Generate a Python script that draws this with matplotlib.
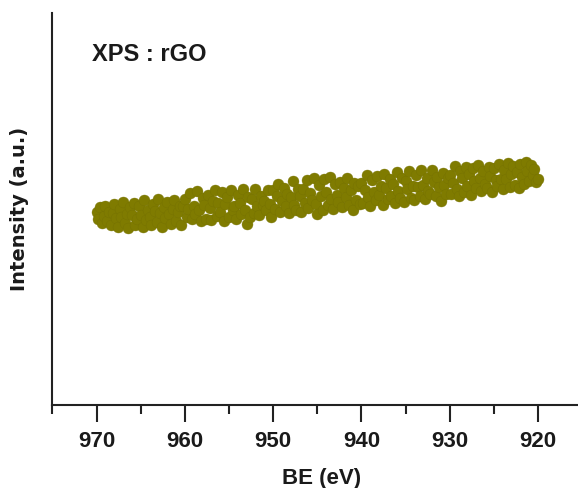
import numpy as np
import matplotlib
matplotlib.use("Agg")
import matplotlib.pyplot as plt
from matplotlib.ticker import MultipleLocator

# binding energy scan (eV), high to low, fixed step
be_start = 970.0
be_end = 920.0

# background intensity (a.u.), one value per 0.2 eV step from 970 down to 920
intensity = [
    # 970 - 960.2
    49.1, 47.3, 50.4, 46.3, 48.2, 50.8, 46.9, 49.3, 45.8, 49.0,
    51.3, 47.6, 45.3, 49.9, 48.0, 51.8, 46.4, 48.8, 45.0, 50.4,
    48.4, 51.6, 46.0, 47.3, 50.6, 48.5, 45.4, 52.3, 47.1, 49.6,
    48.0, 45.8, 51.3, 49.5, 46.6, 52.6, 49.0, 45.3, 50.5, 47.6,
    51.7, 48.6, 46.2, 49.9, 52.3, 46.9, 49.2, 50.8, 45.8, 50.6,
    # 960 - 950.2
    52.5, 47.8, 50.0, 54.1, 47.3, 50.8, 48.6, 54.5, 49.6, 46.9,
    52.8, 51.0, 47.5, 53.6, 50.1, 47.1, 51.9, 54.9, 48.2, 51.6,
    49.3, 54.3, 46.9, 51.2, 52.9, 48.0, 54.8, 49.7, 50.6, 47.4,
    53.5, 51.6, 48.6, 55.0, 49.8, 46.2, 53.1, 47.9, 52.4, 49.0,
    55.1, 50.8, 48.3, 53.2, 51.1, 51.9, 49.6, 54.9, 51.3, 47.9,
    # 950 - 940.2
    54.8, 50.0, 53.2, 56.4, 49.2, 52.1, 55.4, 50.7, 53.8, 48.9,
    52.9, 57.0, 51.1, 49.6, 55.0, 53.4, 49.3, 55.1, 51.6, 57.4,
    50.3, 54.0, 52.2, 58.0, 51.3, 48.8, 56.0, 53.4, 49.8, 57.6,
    54.3, 50.9, 58.2, 52.6, 49.9, 56.3, 53.5, 51.8, 56.9, 50.4,
    55.3, 52.9, 57.8, 51.0, 54.8, 49.6, 56.6, 52.3, 55.9, 51.2,
    # 940 - 930.2
    56.7, 51.6, 54.9, 58.6, 52.9, 50.8, 57.3, 54.4, 52.2, 58.4,
    53.5, 55.8, 51.1, 59.0, 55.3, 52.6, 57.6, 53.3, 56.4, 51.6,
    59.3, 54.6, 52.7, 58.0, 51.8, 57.1, 55.1, 59.6, 52.8, 55.9,
    52.3, 58.6, 55.6, 53.4, 59.9, 56.2, 52.4, 57.8, 54.5, 53.9,
    60.0, 56.9, 53.2, 58.2, 55.7, 51.9, 59.2, 56.1, 53.8, 58.0,
    # 930 - 920.2
    58.7, 53.9, 56.6, 61.0, 55.0, 53.4, 59.6, 57.8, 54.4, 60.6,
    55.8, 58.9, 53.6, 60.3, 57.0, 55.2, 61.2, 57.9, 54.6, 59.7,
    56.3, 55.4, 60.8, 58.5, 54.4, 60.4, 57.3, 55.9, 61.4, 57.7,
    55.0, 59.9, 57.6, 61.8, 55.7, 58.9, 60.9, 56.2, 59.4, 55.3,
    61.5, 58.1, 56.4, 62.0, 59.7, 57.1, 61.1, 58.6, 60.2, 56.8,
    # 920
    57.6,
]

x_ticks = [970, 960, 950, 940, 930, 920]
sample_label = "XPS : rGO"

be = np.linspace(be_start, be_end, len(intensity))

fig = plt.figure(figsize=(5.78, 4.88), dpi=100)
ax = fig.add_axes([0.0908, 0.1707, 0.930, 0.8027])

ax.scatter(be, intensity, s=62, marker="o", facecolor="#7f7b00",
           edgecolor="#767200", linewidths=0.3, zorder=3)

ax.set_xlim(975, 914.1)
ax.set_ylim(0, 100)

# only left and bottom axis lines
for side in ("top", "right"):
    ax.spines[side].set_visible(False)
for side in ("left", "bottom"):
    ax.spines[side].set_linewidth(1.5)
    ax.spines[side].set_color("#222222")

ax.set_xticks(x_ticks)
ax.xaxis.set_minor_locator(MultipleLocator(5))
ax.set_yticks([])
ax.tick_params(axis="x", which="major", direction="out", length=12.2,
               width=1.5, color="#222222", pad=7)
ax.tick_params(axis="x", which="minor", direction="out", length=6.3,
               width=1.5, color="#222222")
for lbl in ax.get_xticklabels():
    lbl.set_fontfamily("Liberation Sans")
    lbl.set_fontweight("bold")
    lbl.set_fontsize(16)
    lbl.set_color("#1a1a1a")

ax.set_xlabel("BE (eV)", fontfamily="Liberation Sans", fontweight="bold",
              fontsize=16, color="#1a1a1a", labelpad=11)
ax.set_ylabel("Intensity (a.u.)", fontfamily="DejaVu Sans", fontweight="bold",
              fontsize=14, color="#1a1a1a", labelpad=17)

ax.text(0.0735, 0.8775, sample_label, transform=ax.transAxes, ha="left",
        va="baseline", fontfamily="Liberation Sans", fontweight="bold",
        fontsize=17, color="#1a1a1a")

fig.savefig("out.png", dpi=100)
